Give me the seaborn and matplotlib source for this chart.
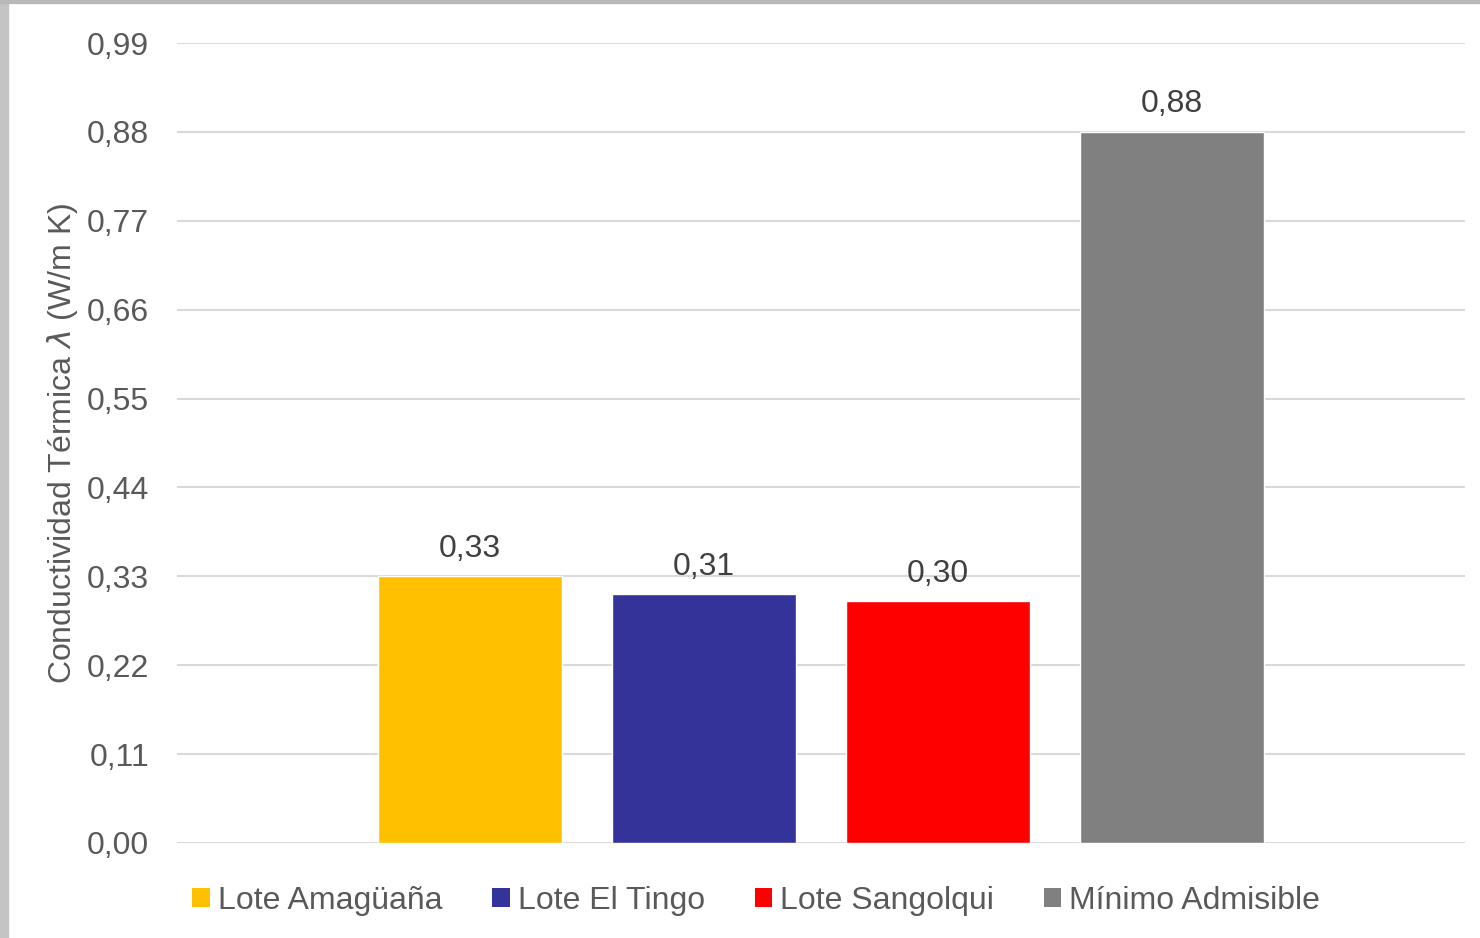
import numpy as np
import pandas as pd
import matplotlib.pyplot as plt
import seaborn as sns
from matplotlib.patches import Patch, Rectangle

# data
series = ['Lote Amagüaña', 'Lote El Tingo', 'Lote Sangolqui', 'Mínimo Admisible']
values = [0.33, 0.308, 0.299, 0.88]
colors = ['#FFC000', '#333399', '#FF0000', '#808080']
yticks = [0.00, 0.11, 0.22, 0.33, 0.44, 0.55, 0.66, 0.77, 0.88, 0.99]

sns.set_theme(style='white')
plt.rcParams['font.family'] = ['Liberation Sans', 'DejaVu Sans']
text_color = '#595959'
fs = 23

df = pd.DataFrame({'serie': series, 'valor': values})

fig = plt.figure(figsize=(14.8, 9.38), dpi=100)
ax = fig.add_axes([177 / 1480, 1 - 843 / 938, (1465 - 177) / 1480, 800 / 938])

sns.barplot(data=df, x='serie', y='valor', hue='serie', palette=colors,
            width=0.786, saturation=1, legend=False, ax=ax)

ax.set_xlim(-1.252, 4.252)
ax.set_ylim(0, 0.99)
ax.set_yticks(yticks)
ax.set_yticklabels([f'{t:.2f}'.replace('.', ',') for t in yticks],
                   fontsize=fs, color=text_color)
ax.tick_params(axis='y', length=0, pad=20)
ax.set_xticks([])
ax.set_xlabel('')
ax.set_ylabel(r'Conductividad Térmica $\lambda$ (W/m K)', fontsize=fs,
              color=text_color, labelpad=5)
ax.grid(axis='y', color='#d9d9d9', linewidth=1.5)
ax.set_axisbelow(True)
for s in ax.spines.values():
    s.set_visible(False)

for c in ax.containers:
    ax.bar_label(c, labels=[f'{v:.2f}'.replace('.', ',') for v in c.datavalues],
                 padding=9, fontsize=fs, color='#404040')

handles = [Patch(facecolor=c, edgecolor='none') for c in colors]
fig.legend(handles, series, loc='center', bbox_to_anchor=(0.511, 1 - 901 / 938),
           ncol=4, frameon=False, fontsize=fs, labelcolor=text_color,
           handlelength=0.55, handleheight=0.55, handletextpad=0.25,
           columnspacing=1.56)

# grey screenshot border on top and left
fig.patches.append(Rectangle((0, 0), 8 / 1480, 1, transform=fig.transFigure,
                             color='#c4c4c4', zorder=-1))
fig.patches.append(Rectangle((0, 1 - 3 / 938), 1, 3 / 938, transform=fig.transFigure,
                             color='#b8b8b8', zorder=-1))

fig.savefig('out.png', dpi=100)
